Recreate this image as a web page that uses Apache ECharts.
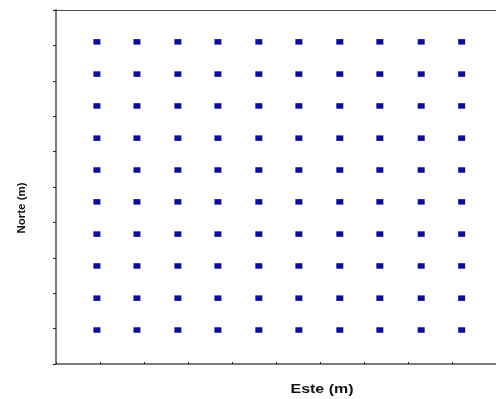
<!DOCTYPE html>
<html>
<head>
<meta charset="utf-8">
<style>
  html, body { margin: 0; padding: 0; background: #ffffff; }
  #chart { width: 496px; height: 399px; }
</style>
<script src="https://cdn.jsdelivr.net/npm/echarts@6/dist/echarts.min.js"></script>
</head>
<body>
<div id="chart"></div>
<script>
// Sampling grid: east and north coordinates of the stations
const esteValues = [9.3, 18.4, 27.7, 36.8, 46.1, 55.2, 64.5, 73.6, 83.0, 92.2];
const norteValues = [9.6, 18.6, 27.7, 36.7, 45.8, 54.8, 63.8, 72.9, 81.9, 91.0];
const xLabel = 'Este (m)';
const yLabel = 'Norte (m)';

// every east/north combination is one station
const stations = [];
for (const n of norteValues) {
  for (const e of esteValues) {
    stations.push([e, n]);
  }
}

const chart = echarts.init(document.getElementById('chart'), null, { renderer: 'canvas' });

chart.setOption({
  backgroundColor: '#ffffff',
  animation: false,
  grid: { left: 56, right: 0, top: 10, bottom: 35 },
  xAxis: [
    {
      type: 'value', min: 0, max: 100, interval: 10, position: 'bottom',
      axisLine: { show: true, onZero: false, lineStyle: { color: '#7a7a7a', width: 2 } },
      axisTick: { show: true, inside: true, length: 2, lineStyle: { color: '#222', width: 1 } },
      axisLabel: { show: false },
      splitLine: { show: false }
    },
    {
      // frame line along the top of the plot
      type: 'value', min: 0, max: 100, interval: 10, position: 'top',
      axisLine: { show: true, onZero: false, lineStyle: { color: '#4a4a4a', width: 1.2 } },
      axisTick: { show: false },
      axisLabel: { show: false },
      splitLine: { show: false }
    }
  ],
  yAxis: {
    type: 'value', min: 0, max: 100, interval: 10,
    axisLine: { show: true, onZero: false, lineStyle: { color: '#7a7a7a', width: 2 } },
    axisTick: { show: true, inside: false, length: 3, lineStyle: { color: '#222', width: 1 } },
    axisLabel: { show: false },
    splitLine: { show: false }
  },
  series: [{
    type: 'scatter',
    xAxisIndex: 0,
    symbol: 'rect',
    symbolSize: [7, 5.5],
    itemStyle: { color: '#0d0d96', opacity: 1 },
    data: stations
  }],
  graphic: [
    {
      type: 'text',
      x: 322, y: 390,
      scaleX: 1.33,
      style: {
        text: xLabel,
        font: 'bold 12px "Liberation Sans", Arial, sans-serif',
        fill: '#111',
        align: 'center',
        verticalAlign: 'middle'
      }
    },
    {
      type: 'text',
      x: 22, y: 208,
      rotation: Math.PI / 2,
      style: {
        text: yLabel,
        font: 'bold 11.5px "Liberation Sans", Arial, sans-serif',
        fill: '#111',
        align: 'center',
        verticalAlign: 'middle'
      }
    }
  ]
});
</script>
</body>
</html>
